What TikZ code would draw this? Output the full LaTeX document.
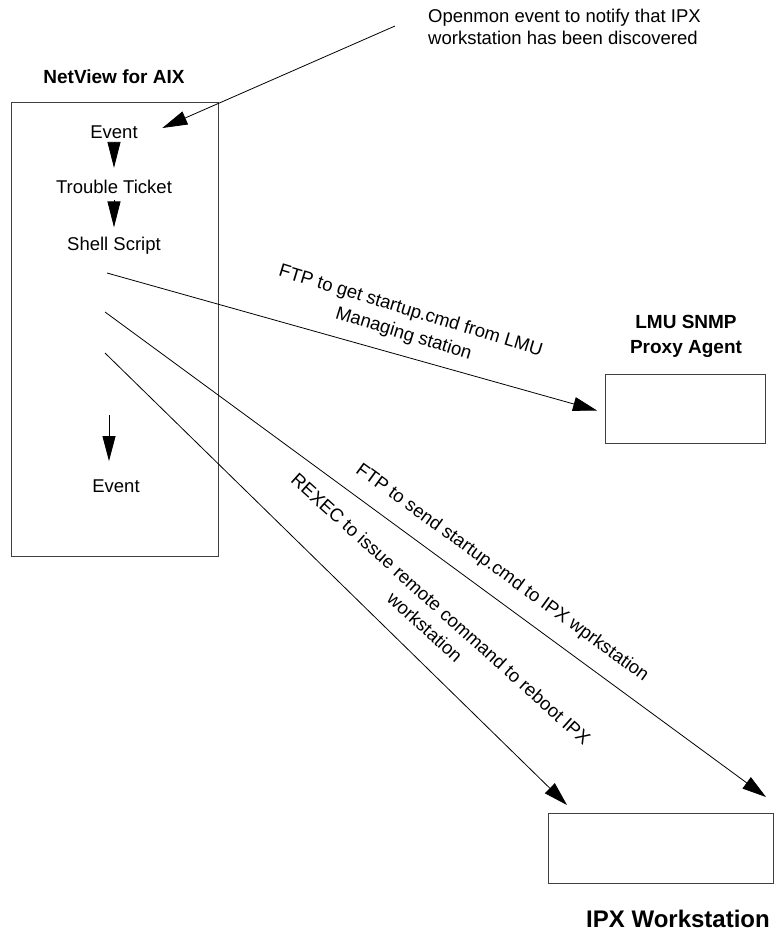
\documentclass[tikz,border=0pt]{standalone}
\usepackage{fontspec}
\setmainfont{Liberation Sans}
\usetikzlibrary{arrows.meta,calc}
\begin{document}
\begin{tikzpicture}[x=1pt,y=-1pt,
  box/.style={draw=black!75, line width=1pt, inner sep=0pt},
  lbl/.style={font=\fontsize{18.5}{24}\selectfont, inner sep=0pt},
  ttl/.style={font=\bfseries\fontsize{19}{23}\selectfont, inner sep=0pt},
  bigttl/.style={font=\bfseries\fontsize{24}{28}\selectfont, inner sep=0pt},
  flow/.style={-{Triangle[length=24pt,width=14pt]}, line width=0.8pt},
  stepflow/.style={-{Triangle[length=26pt,width=13pt]}, line width=0.8pt}]
\useasboundingbox (0,0) rectangle (774,934);

% NetView for AIX
\node[ttl, anchor=base] (nvt) at (114,83) {NetView for AIX};
\node[box, anchor=north west, minimum width=207pt, minimum height=454pt] (nv) at (11,102) {};
\node[lbl, anchor=base] (ev) at (114,138) {Event};
\node[lbl, anchor=base] (tt) at (114,193) {Trouble Ticket};
\node[lbl, anchor=base] (sh) at (114,250) {Shell Script};
\node[lbl, anchor=base] (ev2) at (116,492) {Event};
\draw[stepflow, shorten <=4pt, shorten >=11.5pt] (ev.south) -- (tt.north);
\draw[stepflow, shorten <=7pt, shorten >=9pt] (tt.south) -- (sh.north);
\coordinate (evsrc) at (109,415);
\draw[-{Triangle[length=25pt,width=13pt]}, line width=0.8pt]
  (evsrc) -- ([shift={(-7,-18)}]ev2.north);

% LMU SNMP Proxy Agent
\node[ttl, anchor=base] (lmut1) at (686,328) {LMU SNMP};
\node[ttl, anchor=base] (lmut2) at (686,353) {Proxy Agent};
\node[box, anchor=north west, minimum width=160pt, minimum height=69pt] (lmu) at (605,374) {};

% IPX Workstation
\node[box, anchor=north west, minimum width=224.5pt, minimum height=70pt] (ipx) at (548,813) {};
\node[bigttl, anchor=base] (ipxt) at (678,927) {IPX Workstation};

% Openmon notification
\node[lbl, anchor=base west] (om1) at (428,23) {Openmon event to notify that IPX};
\node[lbl, anchor=base west] (om2) at (428,45) {workstation has been discovered};
\coordinate (omsrc) at (395,26);
\draw[-{Triangle[length=25pt,width=14pt]}, line width=0.8pt]
  (omsrc) -- ([shift={(24.5,-10)}]ev.base east);

% Shell script actions
\coordinate (s1) at (107,273);
\coordinate (s2) at (105,312);
\coordinate (s3) at (105,353);
\draw[flow] (s1) -- ([shift={(-8,1.5)}]lmu.west);
\draw[flow] (s2) -- ([shift={(-7.5,-16)}]ipx.north east);
\draw[flow] (s3) -- ([shift={(19,-8)}]ipx.north west);

\node[lbl, rotate=-17, align=center] (lget) at (407,323)
  {FTP to get startup.cmd from LMU\\Managing station};
\node[lbl, rotate=-36] (lsend) at (502,573)
  {FTP to send startup.cmd to IPX wprkstation};
\node[lbl, rotate=-42, align=center] (lrex) at (433,618)
  {REXEC to issue remote command to reboot IPX\\workstation};
\end{tikzpicture}
\end{document}
